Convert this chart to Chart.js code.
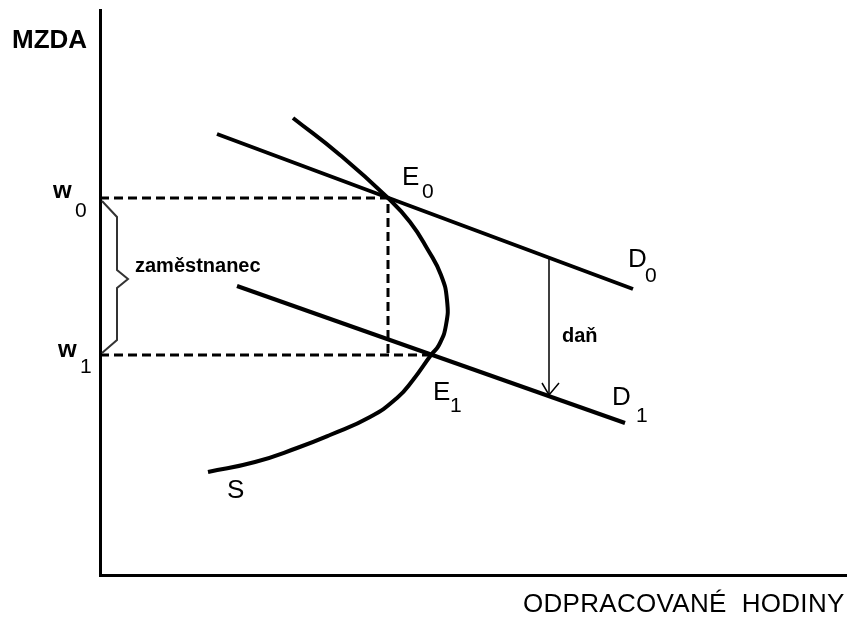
<!DOCTYPE html>
<html>
<head>
<meta charset="utf-8">
<script src="https://cdn.jsdelivr.net/npm/chart.js@4"></script>
<style>
  html, body { margin: 0; padding: 0; background: #fff; }
  #wrap { width: 847px; height: 617px; }
</style>
</head>
<body>
<div id="wrap"><canvas id="chart" width="847" height="617"></canvas></div>
<script>
// hours (x) and wage (y), origin at the axes corner
const demand0 = [[117, 441], [533, 286]];
const demand1 = [[137, 289], [525, 152]];
const supply = [
    [193, 457], [240, 420], [288, 377], [310, 353], [328, 325], [341, 300],
    [347, 275], [346, 250], [339, 230], [331, 220], [313, 195], [297, 177],
    [270, 158], [230, 140], [197, 127], [155, 113], [108, 103]
];
const equilibrium0 = [288, 377];
const equilibrium1 = [331, 220];
const braceX = [2, 17, 17, 28, 17, 17, 2];
const braceY = [374, 358, 305, 296, 287, 235, 222];
const taxX = 449;
const taxY = [317, 180];

const labels = [
    { text: 'MZDA', x: -88, y: 527, font: 'bold 26px "Liberation Sans"' },
    { text: 'ODPRACOVANÉ  HODINY', x: 423, y: -37, font: '26px "Liberation Sans"', spacing: 0.3 },
    { text: 'w', x: -47, y: 377, font: 'bold 24px "Liberation Sans"' },
    { text: '0', x: -25, y: 358, font: '21px "Liberation Sans"' },
    { text: 'w', x: -42, y: 218, font: 'bold 24px "Liberation Sans"' },
    { text: '1', x: -20, y: 202, font: '21px "Liberation Sans"' },
    { text: 'zaměstnanec', x: 35, y: 303, font: 'bold 20px "Liberation Sans"' },
    { text: 'E', x: 302, y: 390, font: '26px "Liberation Sans"' },
    { text: '0', x: 322, y: 377, font: '21px "Liberation Sans"' },
    { text: 'E', x: 333, y: 175, font: '26px "Liberation Sans"' },
    { text: '1', x: 350, y: 163, font: '21px "Liberation Sans"' },
    { text: 'D', x: 528, y: 308, font: '26px "Liberation Sans"' },
    { text: '0', x: 545, y: 293, font: '21px "Liberation Sans"' },
    { text: 'D', x: 512, y: 170, font: '26px "Liberation Sans"' },
    { text: '1', x: 536, y: 153, font: '21px "Liberation Sans"' },
    { text: 'daň', x: 462, y: 233, font: 'bold 20px "Liberation Sans"' },
    { text: 'S', x: 127, y: 77, font: '26px "Liberation Sans"' }
];

function pts(list) {
    return list.map(p => ({ x: p[0], y: p[1] }));
}

const textPlugin = {
    id: 'texts',
    afterDraw(chart) {
        const ctx = chart.ctx;
        const xs = chart.scales.x, ys = chart.scales.y;
        ctx.save();
        ctx.fillStyle = '#000';
        ctx.textBaseline = 'alphabetic';
        ctx.textAlign = 'left';
        labels.forEach(l => {
            ctx.font = l.font;
            ctx.letterSpacing = (l.spacing || 0) + 'px';
            ctx.fillText(l.text, xs.getPixelForValue(l.x), ys.getPixelForValue(l.y));
        });
        ctx.restore();
    }
};

const line = (data, extra) => Object.assign({
    data: data,
    showLine: true,
    borderColor: '#000',
    borderWidth: 4,
    pointRadius: 0,
    fill: false,
    tension: 0
}, extra);

new Chart(document.getElementById('chart').getContext('2d'), {
    type: 'scatter',
    data: {
        datasets: [
            line(pts(demand0)),
            line(pts(demand1)),
            line(pts(supply), { tension: 0.5 }),
            line([{ x: 0, y: equilibrium0[1] }, { x: equilibrium0[0], y: equilibrium0[1] }, { x: equilibrium0[0], y: equilibrium1[1] }],
                 { borderWidth: 3, borderDash: [9, 5] }),
            line([{ x: 0, y: equilibrium1[1] }, { x: equilibrium1[0], y: equilibrium1[1] }],
                 { borderWidth: 3, borderDash: [9, 5] }),
            line(braceX.map((x, i) => ({ x: x, y: braceY[i] })), { borderWidth: 2, borderColor: '#333' }),
            line([{ x: taxX, y: taxY[0] }, { x: taxX, y: taxY[1] }], { borderWidth: 1.5 }),
            line([{ x: taxX - 7, y: taxY[1] + 12 }, { x: taxX, y: taxY[1] }, { x: taxX + 10, y: taxY[1] + 12 }], { borderWidth: 1.5 })
        ]
    },
    options: {
        responsive: false,
        animation: false,
        layout: { padding: { left: 100, top: 10, right: 0, bottom: 42 } },
        plugins: { legend: { display: false }, tooltip: { enabled: false } },
        scales: {
            x: {
                type: 'linear', min: 0, max: 747,
                grid: { display: false },
                ticks: { display: false },
                border: { display: true, color: '#000', width: 3 },
                afterFit: s => { s.height = 0; }
            },
            y: {
                type: 'linear', min: 0, max: 565,
                grid: { display: false },
                ticks: { display: false },
                border: { display: true, color: '#000', width: 3 },
                afterFit: s => { s.width = 0; }
            }
        }
    },
    plugins: [textPlugin]
});
</script>
</body>
</html>
